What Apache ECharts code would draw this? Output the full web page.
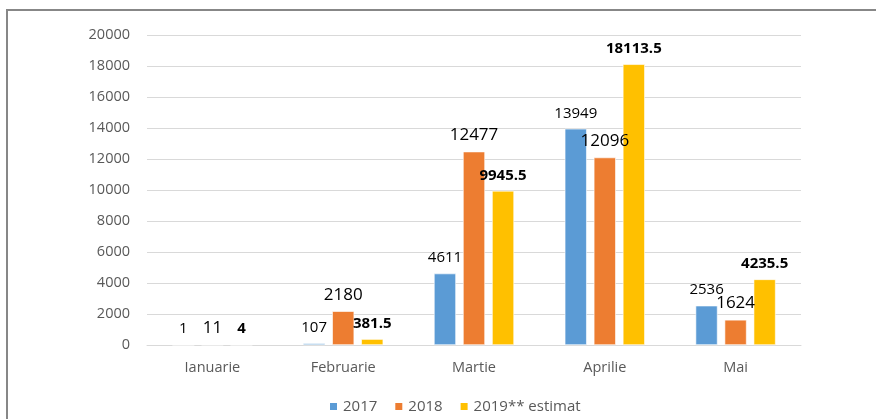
<!DOCTYPE html>
<html><head><meta charset="utf-8">
<script src="https://cdn.jsdelivr.net/npm/echarts@6/dist/echarts.min.js"></script>
<style>html,body{margin:0;padding:0;background:#fff}#c{width:876px;height:419px}</style>
</head><body><div id="c"></div>
<script>
const categories = ['Ianuarie', 'Februarie', 'Martie', 'Aprilie', 'Mai'];
const s2017 = [1, 107, 4611, 13949, 2536];
const s2018 = [11, 2180, 12477, 12096, 1624];
const s2019 = [4, 381.5, 9945.5, 18113.5, 4235.5];
const seriesNames = ['2017', '2018', '2019** estimat'];
const FONT = '"Open Sans", sans-serif';
const chart = echarts.init(document.getElementById('c'));
function bar(name, data, color, lbl) {
  return {
    name, type: 'bar', data, barWidth: 22, barGap: '32%',
    itemStyle: { color, borderColor: '#fff', borderWidth: 0.6 },
    label: Object.assign({ show: true, position: 'top', distance: 8, fontFamily: FONT, color: '#000' }, lbl)
  };
}
chart.setOption({
  animation: false,
  textStyle: { fontFamily: FONT },
  graphic: [{ type: 'rect', shape: { x: 7, y: 10, width: 900, height: 500 }, style: { fill: 'none', stroke: '#878787', lineWidth: 2 } }],
  grid: { left: 147, right: 75, top: 35, bottom: 74 },
  legend: {
    top: 394, left: 323, itemWidth: 9, itemHeight: 9, itemGap: 16, icon: 'rect',
    textStyle: { fontSize: 15, color: '#595959', fontFamily: FONT },
    data: seriesNames
  },
  xAxis: {
    type: 'category', data: categories,
    axisLine: { lineStyle: { color: '#D9D9D9', width: 1 } }, axisTick: { show: false },
    axisLabel: { fontSize: 14.5, color: '#595959', margin: 15, fontFamily: FONT }
  },
  yAxis: {
    type: 'value', min: 0, max: 20000, interval: 2000,
    axisLine: { show: false }, axisTick: { show: false },
    splitLine: { lineStyle: { color: '#D9D9D9', width: 1 } },
    axisLabel: { fontSize: 14.5, color: '#595959', margin: 17, fontFamily: FONT, formatter: v => String(v) }
  },
  series: [
    bar(seriesNames[0], s2017, '#5B9BD5', { fontSize: 15 }),
    bar(seriesNames[1], s2018, '#ED7D31', { fontSize: 17 }),
    bar(seriesNames[2], s2019, '#FFC000', { fontSize: 15, fontWeight: 'bold' })
  ]
});
</script></body></html>
